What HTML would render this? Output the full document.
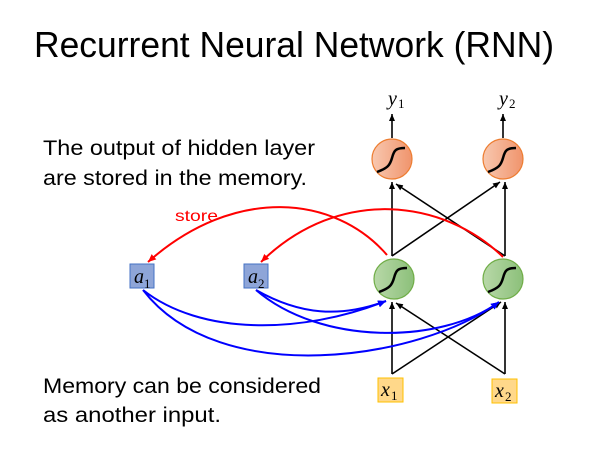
<!DOCTYPE html>
<html><head><meta charset="utf-8"><style>
html,body{margin:0;padding:0;background:#fff;}
svg{display:block;}
</style></head><body>
<svg width="602" height="450" viewBox="0 0 602 450" xmlns="http://www.w3.org/2000/svg">
<defs>
<linearGradient id="og" x1="0" x2="1"><stop offset="0" stop-color="#f8c8b0"/><stop offset="1" stop-color="#f0946c"/></linearGradient>
<linearGradient id="gg" x1="0" x2="1"><stop offset="0" stop-color="#b8d8a8"/><stop offset="1" stop-color="#8cc07a"/></linearGradient>
<marker id="ak" markerWidth="8" markerHeight="8" refX="7" refY="4" orient="auto" markerUnits="userSpaceOnUse"><path d="M0,1 L7,4 L0,7 z" fill="#000"/></marker>
<marker id="ar" markerWidth="10" markerHeight="10" refX="8" refY="4" orient="auto" markerUnits="userSpaceOnUse"><path d="M0,0.5 L8,4 L0,7.5 z" fill="#f00"/></marker>
<marker id="ab" markerWidth="10" markerHeight="10" refX="8" refY="4" orient="auto" markerUnits="userSpaceOnUse"><path d="M0,0.5 L8,4 L0,7.5 z" fill="#00f"/></marker>
</defs>
<text x="34" y="57" font-family="Liberation Sans, sans-serif" font-size="36" textLength="520" lengthAdjust="spacingAndGlyphs" fill="#000">Recurrent Neural Network (RNN)</text>
<g font-family="Liberation Sans, sans-serif" font-size="21" fill="#000">
<text x="43" y="155" textLength="272" lengthAdjust="spacingAndGlyphs">The output of hidden layer</text>
<text x="43" y="185" textLength="264" lengthAdjust="spacingAndGlyphs">are stored in the memory.</text>
<text x="43" y="393" textLength="278" lengthAdjust="spacingAndGlyphs">Memory can be considered</text>
<text x="43" y="422" textLength="178" lengthAdjust="spacingAndGlyphs">as  another input.</text>
</g>
<text x="175" y="221" font-family="Liberation Sans, sans-serif" font-size="16" textLength="43" lengthAdjust="spacingAndGlyphs" fill="#f00">store</text>
<g stroke="#000" stroke-width="1.6" fill="none">
<line x1="392" y1="138" x2="392" y2="114" marker-end="url(#ak)"/>
<line x1="503" y1="138" x2="503" y2="114" marker-end="url(#ak)"/>
<line x1="392" y1="256" x2="392" y2="182" marker-end="url(#ak)"/>
<line x1="392" y1="256" x2="500" y2="182" marker-end="url(#ak)"/>
<line x1="505" y1="256" x2="505" y2="182" marker-end="url(#ak)"/>
<line x1="505" y1="256" x2="396" y2="184" marker-end="url(#ak)"/>
<line x1="392" y1="374" x2="392" y2="302" marker-end="url(#ak)"/>
<line x1="392" y1="374" x2="501" y2="302" marker-end="url(#ak)"/>
<line x1="505" y1="374" x2="505" y2="302" marker-end="url(#ak)"/>
<line x1="505" y1="374" x2="396" y2="303" marker-end="url(#ak)"/>
</g>
<g stroke="#f00" stroke-width="2" fill="none">
<path d="M387,255 C335,195 235,185 148,262" marker-end="url(#ar)"/>
<path d="M503,257 C445,200 340,185 261,262" marker-end="url(#ar)"/>
</g>
<g stroke="#00f" stroke-width="2" fill="none">
<path d="M143,290 C200,335 300,335 386,301" marker-end="url(#ab)"/>
<path d="M143,290 C220,390 420,360 499,302" marker-end="url(#ab)"/>
<path d="M256,290 C300,315 340,318 386,301" marker-end="url(#ab)"/>
<path d="M256,290 C320,345 440,345 499,302" marker-end="url(#ab)"/>
</g>
<g stroke-width="1.2">
<circle cx="392" cy="159" r="20" fill="url(#og)" stroke="#ed7d31"/>
<circle cx="503" cy="159" r="20" fill="url(#og)" stroke="#ed7d31"/>
<circle cx="394" cy="279" r="20" fill="url(#gg)" stroke="#70ad47"/>
<circle cx="503" cy="279" r="20" fill="url(#gg)" stroke="#70ad47"/>
</g>
<g stroke="#000" stroke-width="2.5" fill="none">
<path d="M377,172 C388,168 390,165 392,158 C394,150 396,148 405,148"/>
<path d="M488,172 C499,168 501,165 503,158 C505,150 507,148 516,148"/>
<path d="M379,292 C390,288 392,285 394,278 C396,270 398,268 407,268"/>
<path d="M488,292 C499,288 501,285 503,278 C505,270 507,268 516,268"/>
</g>
<rect x="130" y="264" width="24" height="24" fill="#8ea5d8" stroke="#4472c4" stroke-width="1"/>
<rect x="244" y="264" width="24" height="24" fill="#8ea5d8" stroke="#4472c4" stroke-width="1"/>
<rect x="378" y="378" width="25" height="24" fill="#ffd88a" stroke="#ffc000" stroke-width="1"/>
<rect x="492" y="379" width="25" height="24" fill="#ffd88a" stroke="#ffc000" stroke-width="1"/>
<g font-family="Liberation Serif, serif" font-style="italic" font-size="20" fill="#000">
<text x="134" y="283">a</text><text x="248" y="283">a</text>
<text x="381" y="396">x</text><text x="495" y="397">x</text>
<text x="388" y="105">y</text><text x="499" y="105">y</text>
</g>
<g font-family="Liberation Serif, serif" font-size="13" fill="#000">
<text x="144" y="288">1</text><text x="258" y="288">2</text>
<text x="391" y="400">1</text><text x="505" y="401">2</text>
<text x="398" y="108">1</text><text x="509" y="108">2</text>
</g>
</svg>
</body></html>
